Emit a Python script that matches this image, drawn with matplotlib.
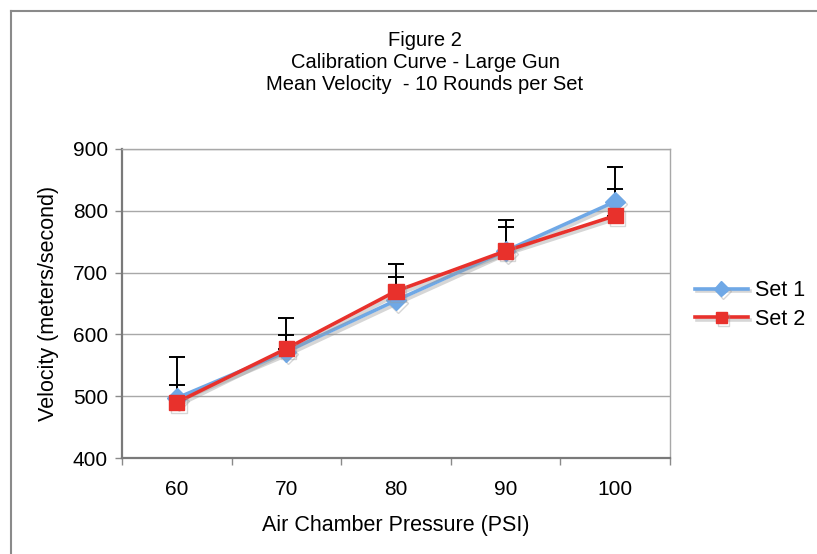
import matplotlib.pyplot as plt
import matplotlib.patheffects as pe
from matplotlib.lines import Line2D

# Chart data
pressure = ['60', '70', '80', '90', '100']
set1 = [497, 572, 655, 735, 815]
set2 = [490, 577, 670, 735, 792]
set1_err = [66, 54, 59, 50, 56]
set2_err = [28, 22, 23, 38, 43]
y_ticks = [400, 500, 600, 700, 800, 900]

plt.rcParams['font.family'] = ['Liberation Sans', 'DejaVu Sans']

fig = plt.figure(figsize=(8.17, 5.54), dpi=100)
fig.patch.set_facecolor('white')

# outer frame of the chart (only top and left edges are visible)
fig.add_artist(Line2D([11 / 817, 11 / 817], [0, 1 - 11 / 554], transform=fig.transFigure,
                      color='#8a8a8a', lw=1.5))
fig.add_artist(Line2D([11 / 817, 1], [1 - 11 / 554, 1 - 11 / 554], transform=fig.transFigure,
                      color='#8a8a8a', lw=1.5))

ax = fig.add_axes([122 / 817, 1 - 458 / 554, 548 / 817, 309 / 554])
x = list(range(len(pressure)))

line_fx = [pe.SimpleLineShadow(offset=(1.5, -2), shadow_color='#999999', alpha=0.4),
           pe.Normal()]

# error bars (plus direction only) drawn behind the markers
ax.errorbar(x, set1, yerr=[[0] * 5, set1_err], fmt='none', ecolor='black',
            elinewidth=1.4, capsize=5.5, capthick=1.4, zorder=2)
ax.errorbar(x, set2, yerr=[[0] * 5, set2_err], fmt='none', ecolor='black',
            elinewidth=1.4, capsize=5.5, capthick=1.4, zorder=2)

ax.plot(x, set1, color='#6fa8e6', lw=2.6, marker='D', markersize=10,
        markeredgecolor='#6fa8e6', label='Set 1', zorder=3, path_effects=line_fx)
ax.plot(x, set2, color='#e8312c', lw=2.6, marker='s', markersize=11,
        markeredgecolor='#e8312c', label='Set 2', zorder=4, path_effects=line_fx)

ax.set_xlim(-0.5, len(pressure) - 0.5)
ax.set_ylim(400, 900)
ax.set_yticks(y_ticks)
ax.set_xticks(x)
ax.set_xticklabels(pressure)
ax.set_xticks([i - 0.5 for i in range(len(pressure) + 1)], minor=True)
ax.tick_params(axis='x', which='major', length=0, labelsize=15, pad=16)
ax.tick_params(axis='x', which='minor', length=5, color='#8a8a8a', width=1)
ax.tick_params(axis='y', length=5, color='#8a8a8a', width=1, labelsize=15, pad=5)

ax.grid(axis='y', color='#a8a8a8', lw=1)
ax.set_axisbelow(True)
for side in ['left', 'bottom']:
    ax.spines[side].set_color('#7a7a7a')
    ax.spines[side].set_linewidth(1.6)
for side in ['right', 'top']:
    ax.spines[side].set_color('#a8a8a8')
    ax.spines[side].set_linewidth(1)

ax.set_xlabel('Air Chamber Pressure (PSI)', fontsize=15.5, labelpad=11)
ax.set_ylabel('Velocity (meters/second)', fontsize=15.5, labelpad=10)

fig.text(425 / 817, 1 - 40 / 554, 'Figure 2', ha='center', va='center', fontsize=14.5)
fig.text(425 / 817, 1 - 62 / 554, 'Calibration Curve - Large Gun', ha='center', va='center',
         fontsize=14.5)
fig.text(425 / 817, 1 - 85 / 554, 'Mean Velocity  - 10 Rounds per Set', ha='center',
         va='center', fontsize=14.5)

fig.legend(loc='center left', bbox_to_anchor=(695 / 817, 1 - 305 / 554), frameon=False,
           fontsize=15.5, handlelength=2.45, handletextpad=0.35, labelspacing=0.35,
           markerscale=0.75, borderpad=0, borderaxespad=0)

fig.savefig('out.png', dpi=100)
